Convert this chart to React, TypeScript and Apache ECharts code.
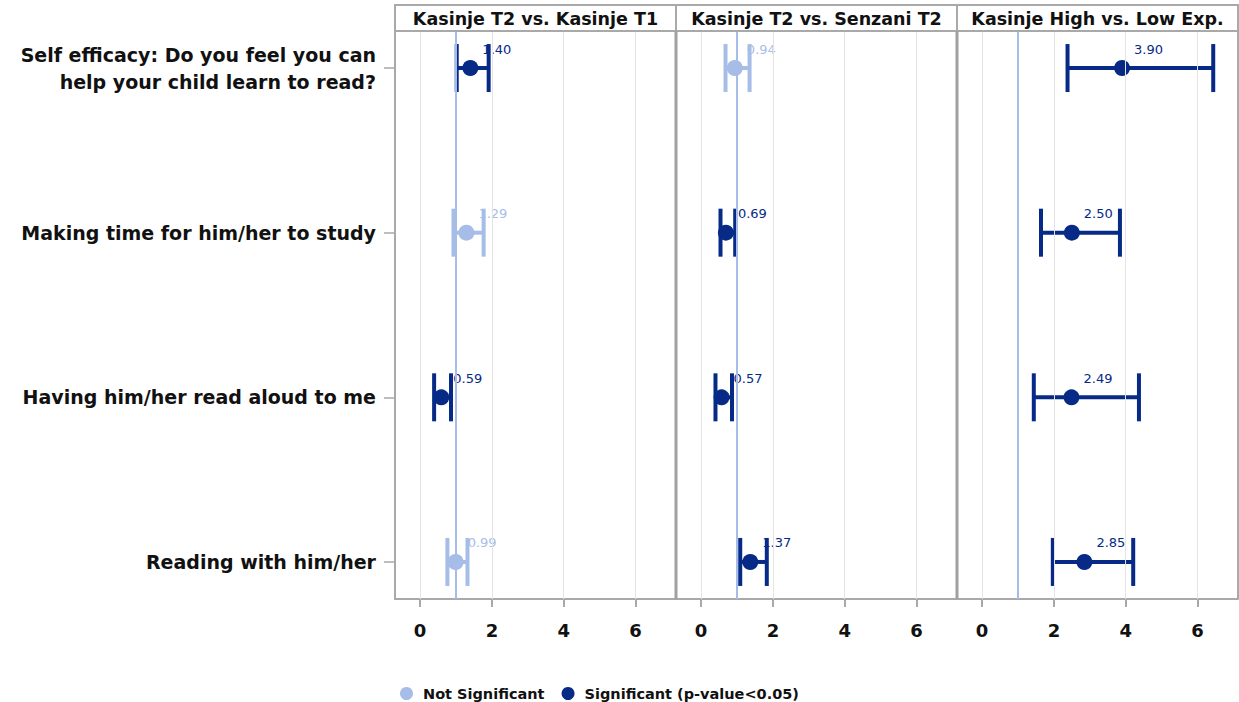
import React, { useEffect, useRef } from "react";
import * as echarts from "echarts";

// Row labels (top to bottom) and panel titles
const rowLabels = [
  "Self efficacy: Do you feel you can\nhelp your child learn to read?",
  "Making time for him/her to study",
  "Having him/her read aloud to me",
  "Reading with him/her",
];
const panelTitles = [
  "Kasinje T2 vs. Kasinje T1",
  "Kasinje T2 vs. Senzani T2",
  "Kasinje High vs. Low Exp.",
];
const xTicks = [0, 2, 4, 6];
const refValue = 1;

// Odds ratio estimates, one array per panel, one value per row
const estimates = [
  [1.4, 1.29, 0.59, 0.99],
  [0.94, 0.69, 0.57, 1.37],
  [3.9, 2.5, 2.49, 2.85],
];
const lowerCI = [
  [1.02, 0.93, 0.39, 0.76],
  [0.68, 0.54, 0.4, 1.09],
  [2.38, 1.64, 1.44, 1.97],
];
const upperCI = [
  [1.91, 1.77, 0.86, 1.32],
  [1.35, 0.95, 0.86, 1.83],
  [6.44, 3.84, 4.37, 4.21],
];
// 1 = significant (p-value < 0.05)
const significant = [
  [1, 0, 1, 0],
  [0, 1, 1, 1],
  [1, 1, 1, 1],
];

const DARK = "#062a86";
const LIGHT = "#a6bde7";
const FRAME = "#a9a9a9";
const FONT = '"DejaVu Sans", Arial, sans-serif';
const NOT_SIG = "Not Significant";
const SIG = "Significant (p-value<0.05)";

const PLOT_LEFT = 395;
const PANEL_W = 281;
const PLOT_TOP = 31;
const PLOT_BOTTOM = 599;
const HEADER_TOP = 5;

export default function App() {
  const ref = useRef<HTMLDivElement>(null);

  useEffect(() => {
    if (!ref.current) return;
    const chart = echarts.init(ref.current, undefined, { renderer: "svg" });

    const grids: any[] = [];
    const xAxes: any[] = [];
    const yAxes: any[] = [];
    const series: any[] = [];

    panelTitles.forEach((_, p) => {
      grids.push({
        left: PLOT_LEFT + p * PANEL_W,
        top: PLOT_TOP,
        width: PANEL_W,
        height: PLOT_BOTTOM - PLOT_TOP,
      });
      xAxes.push({
        type: "value",
        gridIndex: p,
        min: -0.7,
        max: 7.13,
        position: "bottom",
        axisLine: { show: true, onZero: false, lineStyle: { color: FRAME, width: 2 } },
        axisTick: {
          show: true,
          customValues: xTicks,
          length: 8,
          lineStyle: { color: FRAME, width: 2 },
        },
        axisLabel: {
          customValues: xTicks,
          margin: 22,
          fontSize: 18,
          fontWeight: "bold",
          color: "#111",
          fontFamily: FONT,
        },
        splitLine: { show: false },
      });
      yAxes.push({
        type: "value",
        gridIndex: p,
        min: -0.225,
        max: 3.225,
        inverse: true,
        position: "left",
        show: p === 0,
        axisLine: { show: true, onZero: false, lineStyle: { color: FRAME, width: 2 } },
        axisTick: {
          show: true,
          customValues: [0, 1, 2, 3],
          length: 11,
          lineStyle: { color: FRAME, width: 1.5 },
        },
        axisLabel: {
          customValues: [0, 1, 2, 3],
          formatter: (v: number) => rowLabels[Math.round(v)] ?? "",
          margin: 19,
          fontSize: 19,
          lineHeight: 27,
          fontWeight: "bold",
          color: "#111",
          fontFamily: FONT,
          align: "right",
        },
        splitLine: { show: false },
      });

      // vertical grid lines
      series.push({
        type: "line",
        xAxisIndex: p,
        yAxisIndex: p,
        data: [],
        silent: true,
        z: 1,
        markLine: {
          silent: true,
          symbol: ["none", "none"],
          label: { show: false },
          lineStyle: { color: "#e4e4e4", width: 1, type: "solid" },
          data: xTicks.map((v) => ({ xAxis: v })),
        },
      });

      // confidence interval bars with caps
      series.push({
        type: "custom",
        xAxisIndex: p,
        yAxisIndex: p,
        z: 2,
        silent: true,
        encode: { x: [0, 1], y: 2 },
        data: estimates[p].map((_, r) => [lowerCI[p][r], upperCI[p][r], r, significant[p][r]]),
        renderItem: (_params: any, api: any) => {
          const lo = api.coord([api.value(0), api.value(2)]);
          const hi = api.coord([api.value(1), api.value(2)]);
          const color = api.value(3) ? DARK : LIGHT;
          const style = { stroke: color, lineWidth: 4 };
          const h = 24;
          return {
            type: "group",
            children: [
              { type: "line", shape: { x1: lo[0], y1: lo[1], x2: hi[0], y2: hi[1] }, style },
              { type: "line", shape: { x1: lo[0], y1: lo[1] - h, x2: lo[0], y2: lo[1] + h }, style },
              { type: "line", shape: { x1: hi[0], y1: hi[1] - h, x2: hi[0], y2: hi[1] + h }, style },
            ],
          };
        },
      });

      // reference line at odds ratio 1
      series.push({
        type: "line",
        xAxisIndex: p,
        yAxisIndex: p,
        data: [],
        silent: true,
        z: 3,
        markLine: {
          silent: true,
          symbol: ["none", "none"],
          label: { show: false },
          lineStyle: { color: LIGHT, width: 2, type: "solid" },
          data: [{ xAxis: refValue }],
        },
      });

      // point estimates, split by significance
      [0, 1].forEach((sig) => {
        const color = sig ? DARK : LIGHT;
        series.push({
          type: "scatter",
          name: sig ? SIG : NOT_SIG,
          xAxisIndex: p,
          yAxisIndex: p,
          z: 4,
          symbol: "circle",
          symbolSize: 16,
          itemStyle: { color, opacity: 1 },
          data: estimates[p]
            .map((v, r) => (significant[p][r] === sig ? [v, r] : null))
            .filter((d) => d !== null),
          label: {
            show: true,
            position: "right",
            distance: 4,
            offset: [0, -19],
            formatter: (d: any) => Number(d.value[0]).toFixed(2),
            color,
            fontSize: 13,
            fontFamily: FONT,
          },
        });
      });
    });

    // panel headers and frame
    const graphics: any[] = [
      {
        type: "rect",
        z: 10,
        shape: { x: PLOT_LEFT, y: HEADER_TOP, width: PANEL_W * 3, height: PLOT_TOP - HEADER_TOP },
        style: { fill: "#fff", stroke: FRAME, lineWidth: 2 },
      },
    ];
    panelTitles.forEach((t, p) => {
      graphics.push({
        type: "text",
        z: 11,
        x: PLOT_LEFT + p * PANEL_W + PANEL_W / 2,
        y: (HEADER_TOP + PLOT_TOP) / 2 + 1,
        style: {
          text: t,
          fill: "#111",
          font: `bold 17.5px ${FONT}`,
          textAlign: "center",
          textVerticalAlign: "middle",
        },
      });
      if (p > 0) {
        const x = PLOT_LEFT + p * PANEL_W;
        graphics.push({
          type: "line",
          z: 11,
          shape: { x1: x, y1: HEADER_TOP, x2: x, y2: PLOT_TOP },
          style: { stroke: FRAME, lineWidth: 2 },
        });
        graphics.push({
          type: "line",
          z: 11,
          shape: { x1: x, y1: PLOT_TOP, x2: x, y2: PLOT_BOTTOM },
          style: { stroke: "#a0a0a0", lineWidth: 3 },
        });
      }
    });
    graphics.push({
      type: "line",
      z: 11,
      shape: { x1: PLOT_LEFT + 3 * PANEL_W, y1: PLOT_TOP, x2: PLOT_LEFT + 3 * PANEL_W, y2: PLOT_BOTTOM },
      style: { stroke: FRAME, lineWidth: 2 },
    });

    chart.setOption({
      animation: false,
      backgroundColor: "#fff",
      grid: grids,
      xAxis: xAxes,
      yAxis: yAxes,
      series,
      graphic: graphics,
      legend: {
        data: [NOT_SIG, SIG],
        left: 400,
        top: 686,
        padding: 0,
        icon: "circle",
        itemWidth: 13,
        itemHeight: 13,
        itemGap: 17,
        textStyle: {
          fontSize: 14.5,
          fontWeight: "bold",
          color: "#111",
          fontFamily: FONT,
          padding: [0, 0, 0, 5],
        },
      },
    });

    return () => chart.dispose();
  }, []);

  return (
    <div
      ref={ref}
      style={{ position: "fixed", left: 0, top: 0, width: 1239, height: 702 }}
    />
  );
}
